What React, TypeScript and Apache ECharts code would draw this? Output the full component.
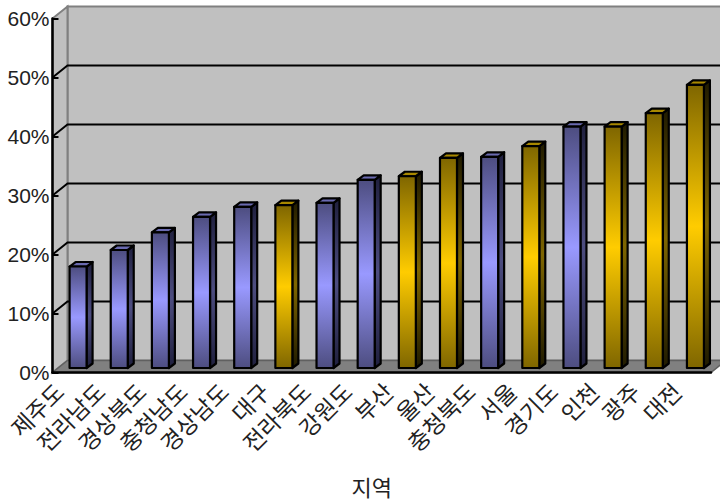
import React, { useEffect, useRef } from "react";
import * as echarts from "echarts";

const regions = ["제주도", "전라남도", "경상북도", "충청남도", "경상남도", "대구", "전라북도", "강원도", "부산", "울산", "충청북도", "서울", "경기도", "인천", "광주", "대전"];
const shares = [17.2, 20.0, 23.0, 25.6, 27.3, 27.6, 28.0, 31.9, 32.5, 35.6, 35.8, 37.6, 40.9, 40.9, 43.2, 48.0];
// 0: provinces (blue), 1: metropolitan cities (gold)
const groups = [0, 0, 0, 0, 0, 1, 0, 0, 1, 1, 0, 1, 0, 1, 1, 1];
const yTicks = [0, 10, 20, 30, 40, 50, 60];
const axisName = "지역";

const palette = [
  { dark: "#4d4d80", light: "#9999ff", sideDark: "#1f1f3d", sideLight: "#4d4d80", top: "#6a6ab0" },
  { dark: "#7f6600", light: "#ffcc00", sideDark: "#1f1a00", sideLight: "#7f6600", top: "#a88800" },
];

const WALL_DX = 15;
const WALL_DY = -12;
const BAR_DX = 6;
const BAR_DY = -4.5;
const BAR_W = 17;
const LINE = "#000000";
const WALL = "#c0c0c0";
const EDGE = "#808080";

const vGrad = (a: string, b: string) => ({
  type: "linear", x: 0, y: 0, x2: 0, y2: 1,
  colorStops: [{ offset: 0, color: a }, { offset: 0.5, color: b }, { offset: 1, color: a }],
});

// Box with back wall, side wall, floor and the gridlines that wrap around them.
function renderBackdrop(params: any, api: any) {
  const cs = params.coordSys;
  const l = cs.x, r = cs.x + cs.width;
  const [, y0] = api.coord([0, 0]);
  const [, yMax] = api.coord([0, yTicks[yTicks.length - 1]]);
  const children: any[] = [
    { type: "polygon", shape: { points: [[l + WALL_DX, yMax + WALL_DY], [r + WALL_DX, yMax + WALL_DY], [r + WALL_DX, y0 + WALL_DY], [l + WALL_DX, y0 + WALL_DY]] }, style: { fill: WALL, stroke: EDGE, lineWidth: 2 } },
    { type: "polygon", shape: { points: [[l, yMax], [l + WALL_DX, yMax + WALL_DY], [l + WALL_DX, y0 + WALL_DY], [l, y0]] }, style: { fill: WALL, stroke: EDGE, lineWidth: 2 } },
    { type: "polygon", shape: { points: [[l, y0], [l + WALL_DX, y0 + WALL_DY], [r + WALL_DX, y0 + WALL_DY], [r, y0]] }, style: { fill: EDGE, stroke: "#606060", lineWidth: 1.5 } },
  ];
  yTicks.slice(1, -1).forEach((t) => {
    const [, y] = api.coord([0, t]);
    children.push({
      type: "polyline",
      shape: { points: [[l, y], [l + WALL_DX, y + WALL_DY], [r + WALL_DX, y + WALL_DY]] },
      style: { fill: "none", stroke: LINE, lineWidth: 2 },
    });
  });
  return { type: "group", children };
}

// One extruded column: front face, top cap and right-hand side.
function renderBar(_: any, api: any) {
  const idx = api.value(0);
  const [cx, yTop] = api.coord([idx, api.value(1)]);
  const [, yBase] = api.coord([idx, 0]);
  const c = palette[groups[idx]];
  const x0 = cx + 5 - BAR_W / 2;
  const x1 = x0 + BAR_W;
  const b = yBase - 4.5;
  const t = yTop - 4.5;
  const style = { stroke: LINE, lineWidth: 2.2, lineJoin: "round" };
  return {
    type: "group",
    children: [
      { type: "polygon", shape: { points: [[x1, t], [x1 + BAR_DX, t + BAR_DY], [x1 + BAR_DX, b + BAR_DY], [x1, b]] }, style: { ...style, fill: vGrad(c.sideDark, c.sideLight) } },
      { type: "polygon", shape: { points: [[x0, t], [x0 + BAR_DX, t + BAR_DY], [x1 + BAR_DX, t + BAR_DY], [x1, t]] }, style: { ...style, fill: c.top } },
      { type: "polygon", shape: { points: [[x0, t], [x1, t], [x1, b], [x0, b]] }, style: { ...style, fill: vGrad(c.dark, c.light) } },
    ],
  };
}

export default function App() {
  const ref = useRef<HTMLDivElement>(null);
  useEffect(() => {
    document.body.style.margin = "0";
    const chart = echarts.init(ref.current!, undefined, { renderer: "svg" });
    chart.setOption({
      animation: false,
      backgroundColor: "#ffffff",
      grid: { left: 52.5, right: 9, top: 18.5, bottom: 131.5 },
      xAxis: {
        type: "category",
        data: regions,
        z: 3,
        name: axisName,
        nameLocation: "middle",
        nameGap: 102,
        nameTextStyle: { fontFamily: "Noto Sans CJK KR", fontSize: 22, color: "#222222", padding: [0, 20, 0, 0] },
        axisLine: { lineStyle: { color: LINE, width: 2.5 } },
        axisTick: { inside: true, length: 7, lineStyle: { color: LINE, width: 2 }, alignWithLabel: false },
        axisLabel: { interval: 0, rotate: 45, margin: 0, padding: [0, 20, 0, 0], fontFamily: "Noto Sans CJK KR", fontSize: 23, color: "#222222" },
      },
      yAxis: {
        type: "value",
        min: 0,
        max: 60,
        interval: 10,
        z: 3,
        axisLine: { show: true, lineStyle: { color: LINE, width: 2.5 } },
        axisTick: { show: true, inside: true, length: 6, lineStyle: { color: LINE, width: 2 } },
        splitLine: { show: false },
        axisLabel: { formatter: "{value}%", margin: 3, padding: [0, 0, 4, 0], fontFamily: "Liberation Sans", fontSize: 21, color: "#222222" },
      },
      series: [
        { type: "custom", z: 1, silent: true, data: [[0, 0]], renderItem: renderBackdrop, encode: { x: 0, y: 1 } },
        { type: "custom", z: 4, data: shares.map((v, i) => [i, v]), renderItem: renderBar, encode: { x: 0, y: 1 } },
      ],
    });
    return () => chart.dispose();
  }, []);
  return <div ref={ref} style={{ width: 720, height: 504 }} />;
}
